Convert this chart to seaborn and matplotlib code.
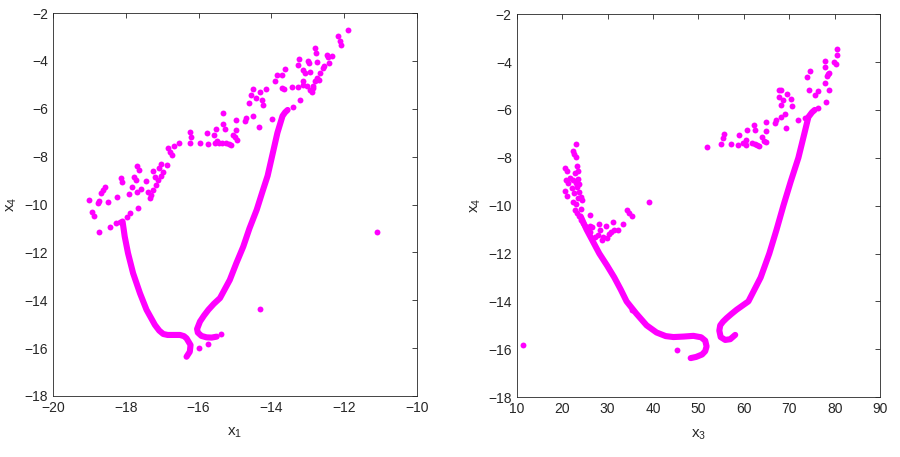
import matplotlib
matplotlib.use("Agg")
import matplotlib.pyplot as plt
import seaborn as sns

# --- DATA: left panel (x1 vs x4) ---
left_pts_x1 = [-19.01, -18.93, -18.87, -18.73, -18.76, -18.73, -18.67, -18.62, -18.58, -18.49,
               -18.44, -18.27, -18.16, -18.24, -18.14, -18.11, -17.98, -17.89, -17.66, -17.92,
               -17.84, -17.78, -17.72, -17.69, -17.63, -17.70, -17.59, -17.45, -17.38, -17.34,
               -17.30, -17.25, -17.17, -17.11, -17.04, -16.97, -17.26, -17.20, -17.09, -17.02,
               -16.88, -16.83, -16.79, -16.74, -16.68, -16.54, -16.24, -16.24, -16.22, -15.97,
               -15.78, -15.74, -15.57, -15.52, -15.50, -15.55, -15.45, -15.34, -15.34, -15.27,
               -15.35, -15.25, -15.15, -15.10, -15.05, -15.00, -14.94, -14.96, -14.97, -14.72,
               -14.70, -14.51, -14.34, -14.60, -14.57, -14.51, -14.42, -14.31, -14.26, -14.22,
               -14.15, -13.99, -13.90, -13.85, -13.71, -13.62, -13.71, -13.66, -13.42, -13.21,
               -13.41, -13.26, -13.26, -13.24, -13.14, -13.07, -13.12, -13.12, -13.03, -12.98,
               -12.95, -12.93, -12.80, -12.93, -12.89, -12.85, -12.84, -12.80, -12.78, -12.73,
               -12.66, -12.75, -12.70, -12.58, -12.55, -12.47, -12.44, -12.40, -12.34, -12.17,
               -12.11, -12.09, -11.88, -11.08, -14.31, -15.99, -15.75, -15.38]
left_pts_x4 = [-9.83, -10.32, -10.50, -11.13, -9.92, -9.85, -9.53, -9.39, -9.27, -9.88,
               -10.92, -10.78, -10.71, -9.69, -8.90, -9.08, -10.53, -10.36, -10.13, -9.55,
               -9.25, -8.83, -8.97, -8.38, -8.55, -9.46, -9.36, -9.01, -9.46, -9.73,
               -9.60, -9.39, -9.18, -8.97, -8.80, -8.66, -8.62, -8.83, -8.48, -8.31,
               -8.34, -7.64, -7.79, -7.93, -7.55, -7.41, -6.99, -7.41, -7.18, -7.44,
               -7.03, -7.46, -7.09, -6.85, -7.33, -7.45, -7.42, -6.16, -6.63, -6.85,
               -7.42, -7.42, -7.46, -7.52, -7.09, -7.20, -7.30, -6.90, -6.46, -6.53,
               -6.39, -6.29, -6.77, -5.76, -5.44, -5.16, -5.56, -5.32, -5.62, -5.83,
               -5.18, -6.43, -4.86, -4.58, -4.58, -4.34, -5.14, -5.16, -5.07, -5.65,
               -5.93, -5.07, -4.16, -3.92, -4.37, -4.51, -4.86, -5.00, -5.05, -4.02,
               -4.08, -4.48, -4.86, -5.21, -5.32, -5.15, -5.05, -3.46, -3.67, -4.06,
               -4.51, -4.70, -4.80, -4.30, -4.20, -3.74, -3.85, -4.09, -3.81, -2.95,
               -3.15, -3.33, -2.73, -11.13, -14.36, -15.98, -15.83, -15.41]

# dense trails (drawn as a thick line of dots)
trail_a_x1 = [-18.09, -18.03, -17.94, -17.80, -17.61, -17.43, -17.20, -17.08, -16.97, -16.85,
              -16.74, -16.51, -16.40, -16.33, -16.22, -16.24, -16.33]
trail_a_x4 = [-10.71, -11.34, -12.03, -12.87, -13.71, -14.40, -15.03, -15.27, -15.41, -15.45,
              -15.45, -15.45, -15.50, -15.59, -15.87, -16.15, -16.36]
trail_b_x1 = [-15.50, -15.64, -15.78, -15.92, -16.02, -16.04, -15.96, -15.85, -15.73, -15.58,
              -15.41, -15.14, -14.96, -14.77, -14.60, -14.40, -14.25, -14.10, -13.98, -13.83,
              -13.75, -13.69, -13.62, -13.55]
trail_b_x4 = [-15.52, -15.56, -15.55, -15.49, -15.35, -15.20, -14.89, -14.64, -14.40, -14.15,
              -13.91, -13.15, -12.45, -11.76, -11.00, -10.22, -9.50, -8.80, -8.00, -7.00,
              -6.60, -6.30, -6.15, -6.05]

# --- DATA: right panel (x3 vs x4) ---
right_pts_x3 = [11.32, 45.38, 35.32, 39.21,
                22.97, 22.44, 22.66, 22.97, 20.62, 20.99, 23.19, 23.41, 22.81, 20.84,
                21.71, 21.34, 22.44, 23.03, 23.32, 23.76, 24.07, 24.29, 23.50, 23.70,
                22.09, 20.62, 20.99, 22.66, 22.44, 23.03, 23.50, 22.81, 24.07, 23.32,
                23.76, 24.10, 24.51, 25.01, 25.40, 25.74, 26.11, 26.60, 26.20, 28.15,
                28.31, 29.63, 27.93, 29.00, 29.78, 30.30, 30.70, 31.30, 31.50, 32.33,
                27.21, 28.68, 26.15, 33.50, 34.20, 34.80, 35.30,
                51.89, 55.05, 55.41, 55.56, 57.25, 58.71, 58.93, 60.40, 59.80, 60.77,
                60.50, 61.70, 62.40, 63.00, 63.40, 62.22, 62.53, 64.07, 64.50, 64.79,
                64.95, 64.95, 66.77, 66.99, 67.72, 68.13, 67.72, 68.24, 68.59, 68.24,
                68.96, 69.18, 69.47, 70.44, 70.66, 71.90, 73.96, 74.46, 74.31, 76.29,
                75.56, 76.29, 77.76, 77.76, 77.76, 78.20, 78.50, 78.70, 77.98, 78.70,
                79.80, 80.18, 80.55, 80.55, 73.40, 74.00]
right_pts_x4 = [-15.84, -16.02, -14.35, -9.85,
                -7.42, -7.70, -7.84, -7.95, -8.41, -8.57, -8.34, -8.57, -8.64, -8.92,
                -8.85, -9.06, -8.92, -9.06, -9.23, -9.45, -9.62, -9.76, -8.90, -9.10,
                -9.27, -9.37, -9.58, -9.48, -9.83, -9.92, -9.70, -10.17, -10.15, -10.31,
                -10.45, -10.60, -10.73, -10.87, -10.95, -11.01, -10.87, -10.90, -11.10, -10.76,
                -11.01, -10.87, -11.22, -11.30, -11.36, -11.20, -11.10, -10.70, -11.00, -11.01,
                -11.29, -11.43, -10.38, -10.75, -10.20, -10.30, -10.45,
                -7.53, -7.42, -7.18, -7.00, -7.42, -7.46, -7.04, -7.25, -7.39, -6.83,
                -7.45, -7.40, -7.42, -7.45, -7.50, -6.62, -6.86, -7.14, -7.30, -7.32,
                -6.90, -6.49, -6.55, -6.42, -5.16, -5.79, -5.47, -5.16, -5.58, -6.28,
                -6.16, -6.76, -5.33, -5.55, -5.83, -6.44, -4.61, -4.36, -5.16, -5.19,
                -5.37, -5.93, -3.94, -4.19, -4.88, -4.60, -4.50, -4.46, -5.65, -5.16,
                -3.98, -4.08, -3.46, -3.70, -6.35, -6.33]

trail_c_x3 = [24.1, 24.8, 25.4, 26.8, 28.2, 29.9, 31.5, 32.9, 34.2, 36.3, 38.6, 40.8,
              42.8, 44.5, 46.7, 48.9, 50.6, 51.5, 51.8, 51.5, 50.8, 49.5, 48.3]
trail_c_x4 = [-10.45, -10.75, -11.00, -11.50, -12.00, -12.50, -13.00, -13.50, -14.00, -14.50,
              -15.00, -15.30, -15.45, -15.49, -15.47, -15.44, -15.50, -15.64, -15.88, -16.08,
              -16.22, -16.32, -16.37]
trail_d_x3 = [58.1, 57.0, 55.9, 54.9, 54.6, 54.8, 55.4, 56.2, 57.3, 58.4, 61.0, 63.7,
              65.6, 67.2, 68.7, 70.3, 72.0, 73.3, 74.2, 75.0, 75.6]
trail_d_x4 = [-15.40, -15.58, -15.61, -15.49, -15.22, -15.00, -14.85, -14.70, -14.52, -14.35,
              -14.00, -13.00, -12.00, -11.00, -10.00, -9.00, -8.00, -7.00, -6.30, -6.10,
              -6.00]

MAGENTA = "#ff00ff"
AXCOL = "#262626"

sns.set_style("white")
plt.rcParams["font.family"] = ["Liberation Sans", "DejaVu Sans"]
plt.rcParams["mathtext.default"] = "regular"

fig = plt.figure(figsize=(9, 4.57), dpi=100)
ax1 = fig.add_axes([0.059, 0.1335, 0.404, 0.838])
ax2 = fig.add_axes([0.574, 0.131, 0.404, 0.838])


def draw_panel(ax, px, py, trails, xlim, xticks, xlabel):
    for tx, ty in trails:
        sns.lineplot(x=tx, y=ty, sort=False, estimator=None, ax=ax, color=MAGENTA,
                     lw=4.4, solid_capstyle="round", solid_joinstyle="round")
    sns.scatterplot(x=px, y=py, ax=ax, color=MAGENTA, s=18, linewidth=0)
    ax.set_xlim(*xlim)
    ax.set_ylim(-18, -2)
    ax.set_xticks(xticks)
    ax.set_yticks(range(-18, -1, 2))
    ax.set_xlabel(xlabel, fontsize=11, color=AXCOL, labelpad=8)
    ax.set_ylabel("$x_4$", fontsize=11, color=AXCOL)
    ax.tick_params(direction="in", length=3.5, width=0.6, colors=AXCOL, labelsize=10,
                   top=True, right=True)
    for sp in ax.spines.values():
        sp.set_color(AXCOL)
        sp.set_linewidth(0.6)


draw_panel(ax1, left_pts_x1, left_pts_x4,
           [(trail_a_x1, trail_a_x4), (trail_b_x1, trail_b_x4)],
           (-20, -10), range(-20, -9, 2), "$x_1$")
draw_panel(ax2, right_pts_x3, right_pts_x4,
           [(trail_c_x3, trail_c_x4), (trail_d_x3, trail_d_x4)],
           (10, 90), range(10, 91, 10), "$x_3$")

fig.savefig("out.png", dpi=100)
